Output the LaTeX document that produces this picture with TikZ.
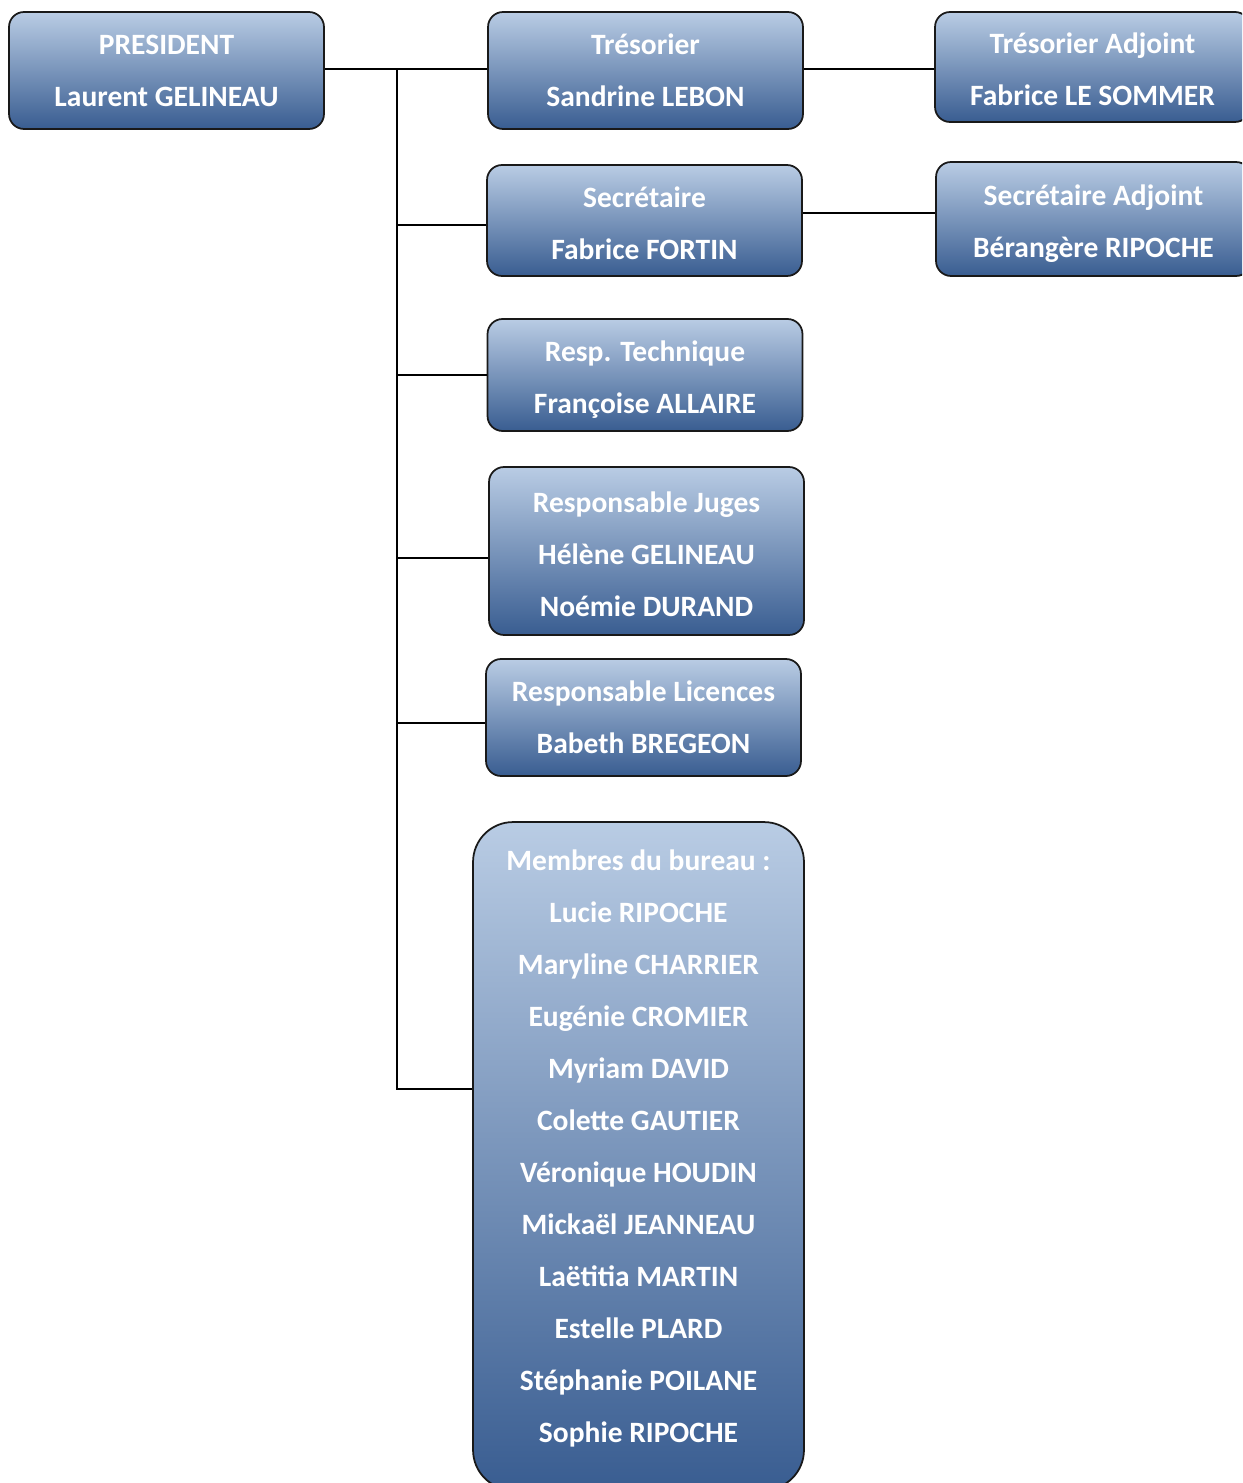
\documentclass[tikz,border=0pt]{standalone}
\usepackage{fontspec}
\setmainfont{Carlito}
\definecolor{boxtop}{RGB}{185,204,228}
\definecolor{boxbot}{RGB}{57,93,145}
\definecolor{boxline}{RGB}{25,25,25}
\tikzset{
  rolebox/.style={draw=boxline, line width=1pt, rounded corners=0.3cm,
    top color=boxtop, bottom color=boxbot,
    minimum width=6.3cm, inner sep=0pt},
  roletext/.style={text=white, inner sep=0pt, align=center,
    font=\fontsize{16.8pt}{29.6pt}\selectfont\bfseries},
  link/.style={line width=1.1pt, black}
}
\begin{document}
\begin{tikzpicture}[x=0.02cm, y=-0.02cm]
    \clip (0,0) rectangle (1242,1483);
    % boxes
    \node[rolebox, minimum height=2.34cm] (pres) at (166.5,70.5) {};
    \node[rolebox, minimum height=2.34cm] (tres) at (645.5,70.5) {};
    \node[rolebox, minimum height=2.2cm] (tresadj) at (1092.5,67) {};
    \node[rolebox, minimum height=2.22cm] (sec) at (644.5,220.5) {};
    \node[rolebox, minimum height=2.28cm] (secadj) at (1093.5,219) {};
    \node[rolebox, minimum height=2.24cm] (tech) at (645,375) {};
    \node[rolebox, minimum height=3.36cm] (juges) at (646.5,551) {};
    \node[rolebox, minimum height=2.34cm] (lic) at (643.5,717.5) {};
    \node[rolebox, minimum width=6.62cm, minimum height=13.36cm, rounded corners=0.8cm] (memb) at (638.5,1156) {};
    % texts
    \node[roletext] (prestxt) at (pres.center) {PRESIDENT\\Laurent GELINEAU};
    \node[roletext] (trestxt) at (tres.center) {Trésorier\\Sandrine LEBON};
    \node[roletext] (tresadjtxt) at ([yshift=-0.05cm]tresadj.center) {Trésorier Adjoint\\Fabrice LE SOMMER};
    \node[roletext] (sectxt) at ([yshift=-0.06cm]sec.center) {Secrétaire\\Fabrice FORTIN};
    \node[roletext] (secadjtxt) at ([yshift=-0.09cm]secadj.center) {Secrétaire Adjoint\\Bérangère RIPOCHE};
    \node[roletext] (techtxt) at ([yshift=-0.09cm]tech.center) {Resp. Technique\\Françoise ALLAIRE};
    \node[roletext] (jugestxt) at ([yshift=-0.07cm]juges.center) {Responsable Juges\\Hélène GELINEAU\\Noémie DURAND};
    \node[roletext] (lictxt) at (lic.center) {Responsable Licences\\Babeth BREGEON};
    \node[roletext] (membtxt) at ([yshift=0.16cm]memb.center)
      {Membres du bureau :\\Lucie RIPOCHE\\Maryline CHARRIER\\Eugénie CROMIER\\Myriam DAVID\\Colette GAUTIER\\Véronique HOUDIN\\Mickaël JEANNEAU\\Laëtitia MARTIN\\Estelle PLARD\\Stéphanie POILANE\\Sophie RIPOCHE};
    % links
    \coordinate (top) at (397,69);
    \coordinate (bot) at (397,1089);
    \coordinate (seclink) at (870,213);
    \draw[link] (pres.east |- top) -- (tres.west |- top);
    \draw[link] (tres.east |- top) -- (tresadj.west |- top);
    \draw[link] (sec.east |- seclink) -- (secadj.west |- seclink);
    \draw[link] (top) -- (bot) -- (bot -| memb.west);
    \draw[link] (top) |- ([yshift=-0.09cm]sec.west);
    \draw[link] (top) |- (tech.west);
    \draw[link] (top) |- ([yshift=-0.14cm]juges.west);
    \draw[link] (top) |- ([yshift=-0.11cm]lic.west);
\end{tikzpicture}
\end{document}
